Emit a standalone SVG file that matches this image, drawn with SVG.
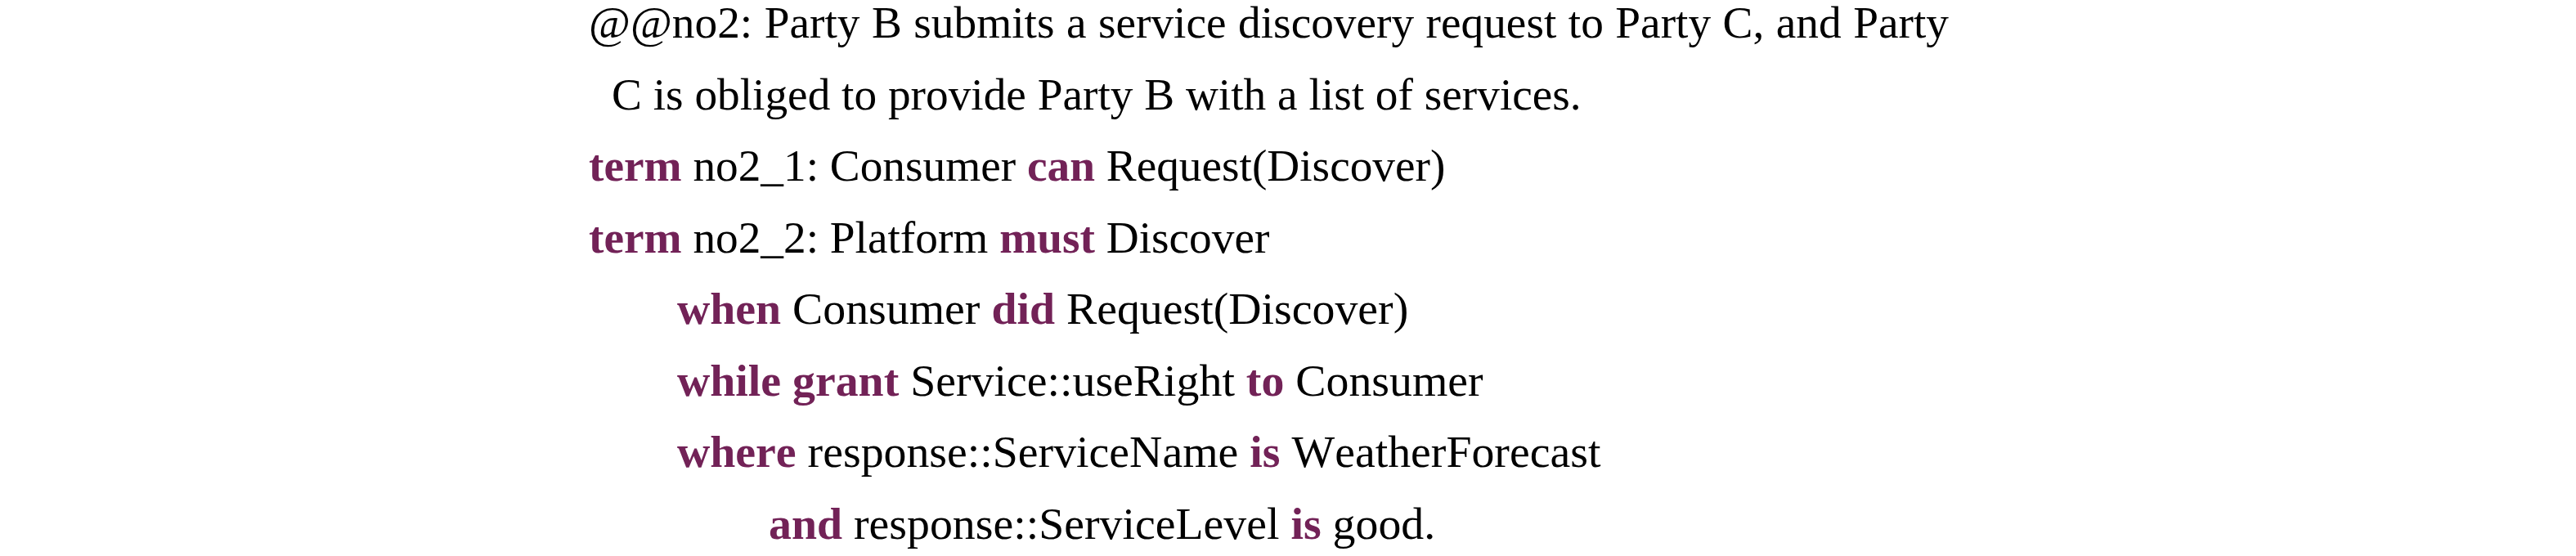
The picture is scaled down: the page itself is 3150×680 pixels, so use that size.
<svg xmlns="http://www.w3.org/2000/svg" width="3150" height="680" viewBox="0 0 3150 680">
<style>
text{font-family:"Liberation Serif","Times New Roman",serif;font-size:55.3px;fill:#000;font-kerning:none;}
.k{font-weight:bold;fill:#722257;}
.i{font-size:55.8px;}
</style>
<rect width="3150" height="680" fill="#fff"/>
<g id="comment">
<text x="720" y="46" word-spacing="0.7">@@no2: Party B submits a service discovery request to Party C, and Party</text>
<text x="748" y="133.5">C is obliged to provide Party B with a list of services.</text>
</g>
<g id="term1">
<text x="720" y="221"><tspan class="k">term</tspan> no2_1: Consumer <tspan class="k">can</tspan> Request(Discover)</text>
</g>
<g id="term2">
<text x="720" y="308.5"><tspan class="k">term</tspan> no2_2: Platform <tspan class="k">must</tspan> Discover</text>
<text class="i" x="828" y="396"><tspan class="k">when</tspan> Consumer <tspan class="k">did</tspan> Request(Discover)</text>
<text class="i" x="828" y="483.5"><tspan class="k">while</tspan> <tspan class="k">grant</tspan> Service::useRight <tspan class="k">to</tspan> Consumer</text>
<text class="i" x="828" y="571"><tspan class="k">where</tspan> response::ServiceName <tspan class="k">is</tspan> WeatherForecast</text>
<text class="i" x="940" y="658.5"><tspan class="k">and</tspan> response::ServiceLevel <tspan class="k">is</tspan> good.</text>
</g>
<g id="connectors"></g>
</svg>
